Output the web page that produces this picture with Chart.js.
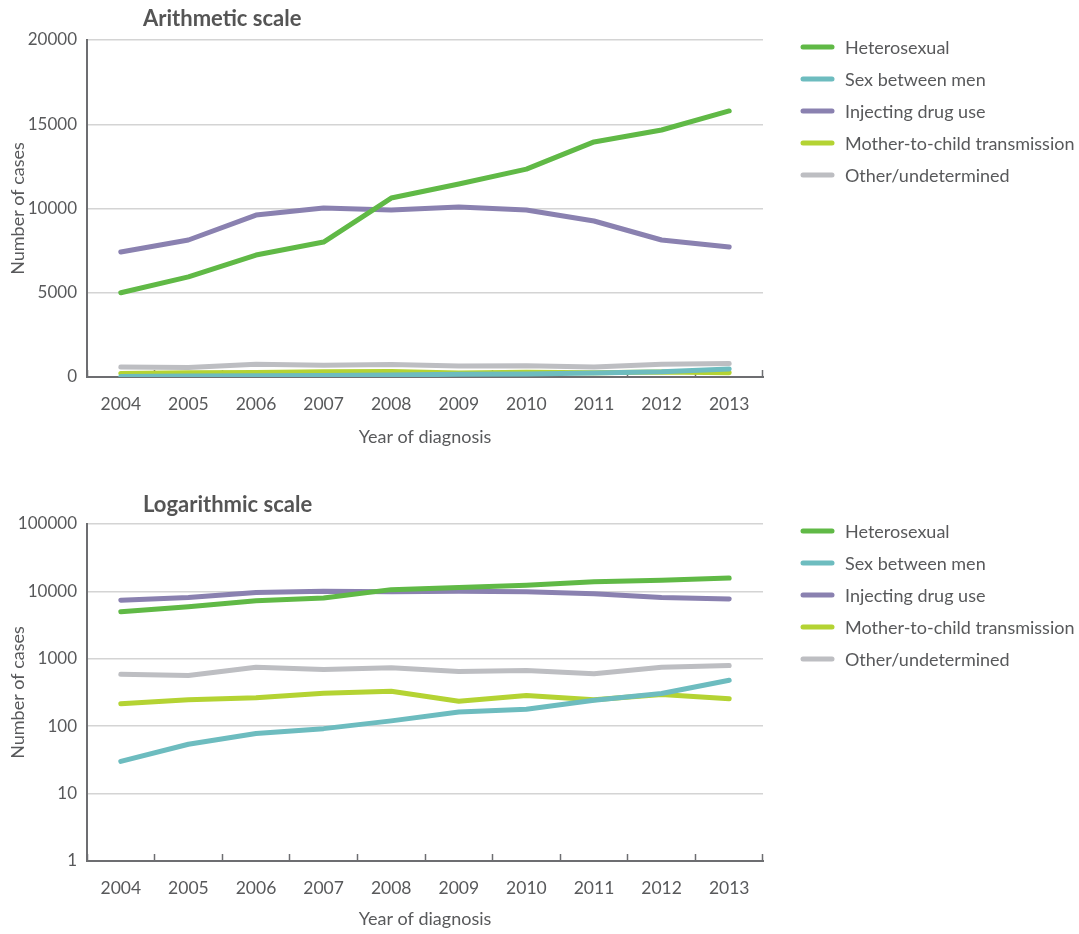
<!DOCTYPE html>
<html><head><meta charset="utf-8">
<script src="https://cdn.jsdelivr.net/npm/chart.js@4/dist/chart.umd.min.js"></script>
<style>
html,body{margin:0;padding:0;background:#fff;width:1079px;height:934px;overflow:hidden}
.box{position:absolute;left:0;width:1079px;height:467px}
canvas{display:block}
</style></head><body>
<div class="box" style="top:0"><canvas id="c1" width="1079" height="467"></canvas></div>
<div class="box" style="top:467px"><canvas id="c2" width="1079" height="467"></canvas></div>
<script>
const years = ['2004','2005','2006','2007','2008','2009','2010','2011','2012','2013'];
const heterosexual = [5000, 5940, 7240, 8010, 10620, 11450, 12340, 13950, 14660, 15790];
const sexBetweenMen = [30, 54, 78, 92, 120, 163, 179, 243, 305, 480];
const injectingDrugUse = [7420, 8130, 9610, 10030, 9910, 10090, 9910, 9260, 8130, 7715];
const motherToChild = [215, 247, 264, 309, 331, 235, 286, 247, 296, 255];
const otherUndetermined = [591, 566, 751, 694, 735, 649, 671, 600, 751, 796];
const seriesLabels = ['Heterosexual','Sex between men','Injecting drug use','Mother-to-child transmission','Other/undetermined'];
const seriesColors = ['#60b946','#6dbcbf','#8a81b0','#b4d333','#bdbec2'];
const linearTicks = [0, 5000, 10000, 15000, 20000];
const logTicks = [1, 10, 100, 1000, 10000, 100000];
const chartTitles = ['Arithmetic scale', 'Logarithmic scale'];
const yAxisTitle = 'Number of cases';
const xAxisTitle = 'Year of diagnosis';

const FONT = 'Lato, "Open Sans", sans-serif';
const TEXT = '#58595b';
const AXIS = '#6d6e71';

const sideLegend = {
  id: 'sideLegend',
  afterDraw(chart, args, o) {
    const {ctx, chartArea} = chart;
    ctx.save();
    ctx.font = '18px ' + FONT;
    ctx.textBaseline = 'middle';
    ctx.textAlign = 'left';
    chart.data.datasets.forEach((ds, i) => {
      const y = chartArea.top + o.offsetY + i * o.rowGap;
      const x = chartArea.right + o.offsetX;
      ctx.strokeStyle = ds.borderColor;
      ctx.lineWidth = ds.borderWidth;
      ctx.lineCap = 'round';
      ctx.beginPath(); ctx.moveTo(x, y); ctx.lineTo(x + o.lineLen, y); ctx.stroke();
      ctx.fillStyle = TEXT;
      ctx.fillText(ds.label, x + o.lineLen + o.gap, y + 1);
    });
    ctx.restore();
  }
};
const chartHeading = {
  id: 'chartHeading',
  afterDraw(chart, args, o) {
    const {ctx, chartArea} = chart;
    ctx.save();
    ctx.font = 'bold 22px ' + FONT;
    ctx.fillStyle = '#555555';
    ctx.textBaseline = 'middle';
    ctx.textAlign = 'left';
    ctx.fillText(o.text, chartArea.left + o.dx, chartArea.top + o.dy);
    ctx.restore();
  }
};

function buildDatasets() {
  const vals = [heterosexual, sexBetweenMen, injectingDrugUse, motherToChild, otherUndetermined];
  return vals.map((v, i) => ({
    label: seriesLabels[i], data: v, borderColor: seriesColors[i], backgroundColor: seriesColors[i],
    borderWidth: 5, borderCapStyle: 'round', borderJoinStyle: 'round', pointRadius: 0, tension: 0, fill: false
  }));
}

function makeChart(id, isLog, padTop, axisH, titlePadB, title, headDy) {
  const yCommon = {
    grid: { color: '#d4d4d4', lineWidth: 1.5, drawTicks: false },
    border: { display: true, color: AXIS, width: 2 },
    ticks: { color: TEXT, font: { family: FONT, size: 17 }, padding: 10, callback: v => String(v) },
    title: { display: true, text: yAxisTitle, color: TEXT, font: { family: FONT, size: 18, lineHeight: 1.2 }, padding: { top: 7, bottom: 0 } },
    afterFit: s => { s.width = 87; }
  };
  const y = isLog
    ? Object.assign({ type: 'logarithmic', min: 1, max: 100000,
        afterBuildTicks: s => { s.ticks = logTicks.map(v => ({ value: v })); } }, yCommon)
    : Object.assign({ type: 'linear', min: 0, max: 20000,
        afterBuildTicks: s => { s.ticks = linearTicks.map(v => ({ value: v })); } }, yCommon);
  return new Chart(document.getElementById(id), {
    type: 'line',
    data: { labels: years, datasets: buildDatasets() },
    plugins: [sideLegend, chartHeading],
    options: {
      responsive: false, animation: false, events: [],
      layout: { padding: { top: padTop, right: 316, bottom: 0, left: 0 } },
      plugins: {
        legend: { display: false }, tooltip: { enabled: false }, title: { display: false },
        sideLegend: { offsetX: 40, offsetY: 7, rowGap: 32, lineLen: 29, gap: 13 },
        chartHeading: { text: title, dx: 56, dy: headDy }
      },
      scales: {
        x: {
          type: 'category', offset: true,
          grid: { display: true, offset: true, drawOnChartArea: false, drawTicks: true, tickLength: -7, tickColor: AXIS, tickWidth: 1.5 },
          border: { display: true, color: AXIS, width: 2 },
          ticks: { color: TEXT, font: { family: FONT, size: 17.5, lineHeight: 1.2 }, padding: 24, maxRotation: 0, autoSkip: false },
          title: { display: true, text: xAxisTitle, color: TEXT, font: { family: FONT, size: 18, lineHeight: 1.2 }, padding: { top: 0, bottom: titlePadB } },
          afterFit: s => { s.height = axisH; }
        },
        y: y
      }
    }
  });
}

makeChart('c1', false, 40, 90, 19, chartTitles[0], -21);
makeChart('c2', true, 57, 73, 4, chartTitles[1], -19);
</script>
</body></html>
